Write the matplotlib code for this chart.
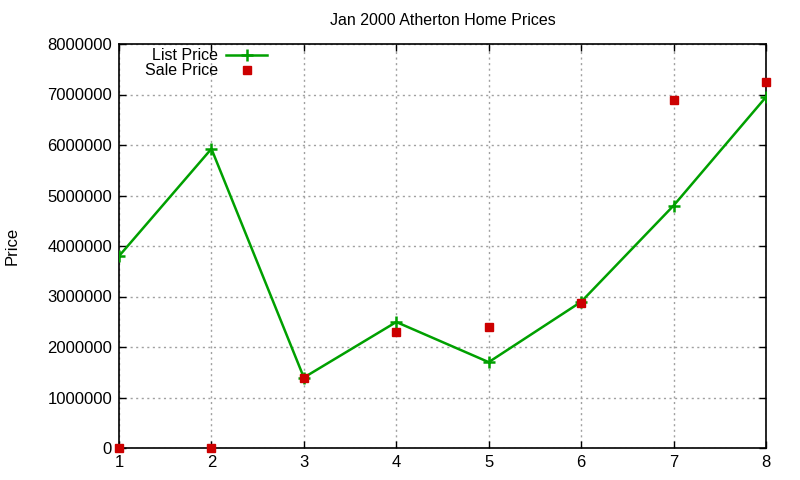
import matplotlib
matplotlib.use("Agg")
import matplotlib.pyplot as plt
from matplotlib.ticker import MultipleLocator, FuncFormatter

plt.rcParams['font.family'] = ['Liberation Sans', 'DejaVu Sans']

x = [1, 2, 3, 4, 5, 6, 7, 8]
list_price = [3800000, 5925000, 1395000, 2495000, 1700000, 2895000, 4800000, 6950000]
sale_price = [0, 0, 1380000, 2300000, 2400000, 2880000, 6890000, 7250000]
title = "Jan 2000 Atherton Home Prices"
ylabel = "Price"

fig = plt.figure(figsize=(8, 4.8), dpi=100)
ax = fig.add_axes([119/800, 1-448/480, (766-119)/800, (448-44)/480])

ax.plot(x, list_price, color='#00a000', lw=1.8, marker='+', ms=9, mew=1.8, label='List Price', zorder=3)
ax.plot(x, sale_price, ls='none', color='#cc0000', marker='s', ms=6, label='Sale Price', zorder=4, clip_on=False)

ax.set_xlim(1, 8)
ax.set_ylim(0, 8000000)
ax.yaxis.set_major_locator(MultipleLocator(1000000))
ax.xaxis.set_major_locator(MultipleLocator(1))
ax.yaxis.set_major_formatter(FuncFormatter(lambda v, p: f"{int(v)}"))
ax.xaxis.set_major_formatter(FuncFormatter(lambda v, p: f"{int(v)}"))
ax.tick_params(direction='in', top=True, right=True, labelsize=12, length=5, width=1, pad=5)
ax.grid(True, color='#a0a0a0', ls=(0, (1.5, 2.5)), lw=1)
for s in ax.spines.values():
    s.set_linewidth(1.2)

ax.set_title(title, fontsize=11.5, pad=14)
fig.text(12/800, 1-246/480, ylabel, rotation=90, ha='center', va='center', fontsize=12)

leg = ax.legend(loc='upper left', bbox_to_anchor=(0.03, 1.005), frameon=False, markerfirst=False,
                fontsize=11.5, handlelength=2.6, borderaxespad=0.0, labelspacing=0.0, handletextpad=0.5)
for t in leg.get_texts():
    t.set_ha('right')
leg._legend_box.align = 'right'

fig.savefig('out.png', dpi=100)
